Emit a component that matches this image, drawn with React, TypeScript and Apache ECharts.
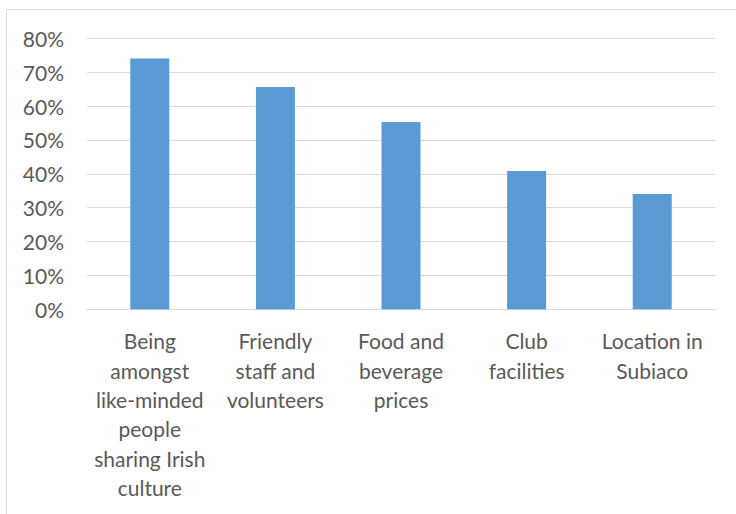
import React, { useEffect, useRef } from "react";
import * as echarts from "echarts";

const categories = [
  "Being\namongst\nlike-minded\npeople\nsharing Irish\nculture",
  "Friendly\nstaff and\nvolunteers",
  "Food and\nbeverage\nprices",
  "Club\nfacilities",
  "Location in\nSubiaco",
];
const values = [74, 65.6, 55.3, 40.8, 34.0];
const yMin = 0;
const yMax = 80;
const yInterval = 10;

export default function App() {
  const ref = useRef<HTMLDivElement>(null);
  useEffect(() => {
    if (!ref.current) return;
    const chart = echarts.init(ref.current, undefined, { renderer: "svg" });
    const font = "Lato, 'Liberation Sans', sans-serif";
    chart.setOption({
      animation: false,
      backgroundColor: "#ffffff",
      graphic: [
        {
          type: "rect",
          shape: { x: 6.5, y: 9.5, width: 800, height: 600 },
          style: { fill: "none", stroke: "#d9d9d9", lineWidth: 1 },
          silent: true,
        },
      ],
      grid: { left: 87, right: 21, top: 38.3, bottom: 204.7, containLabel: false },
      xAxis: {
        type: "category",
        data: categories,
        axisLine: { show: true, lineStyle: { color: "#d9d9d9", width: 1 } },
        axisTick: { show: false },
        axisLabel: {
          interval: 0,
          margin: 17,
          color: "#595959",
          fontFamily: font,
          fontSize: 21,
          lineHeight: 29.3,
          verticalAlign: "top",
          align: "center",
        },
        splitLine: { show: false },
      },
      yAxis: {
        type: "value",
        min: yMin,
        max: yMax,
        interval: yInterval,
        axisLine: { show: false },
        axisTick: { show: false },
        axisLabel: {
          formatter: "{value}%",
          margin: 23,
          color: "#595959",
          fontFamily: font,
          fontSize: 21,
        },
        splitLine: { show: true, lineStyle: { color: "#d9d9d9", width: 1 } },
      },
      series: [
        {
          type: "bar",
          data: values,
          barWidth: 39,
          itemStyle: { color: "#5b9bd5" },
        },
      ],
    });
    return () => chart.dispose();
  }, []);
  return (
    <div
      ref={ref}
      style={{ position: "fixed", left: 0, top: 0, width: 736, height: 514 }}
    />
  );
}
